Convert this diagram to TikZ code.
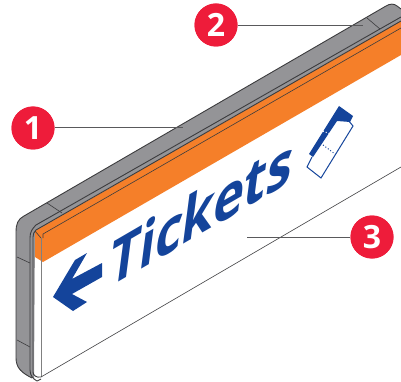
\documentclass[tikz,border=0pt]{standalone}
\usepackage{fontspec}
\setmainfont{Open Sans}
\definecolor{signblue}{HTML}{14449B}
\definecolor{signorange}{HTML}{F57F29}
\definecolor{framegray}{HTML}{949497}
\definecolor{linedark}{HTML}{3C3C3E}
\definecolor{badge}{HTML}{EE1C3A}
\tikzset{
  edge/.style={draw=linedark,line width=0.9pt,line join=round},
  thinedge/.style={draw=linedark,line width=0.6pt},
  leader/.style={draw=linedark!85,line width=0.8pt},
  badgenode/.style={circle,fill=badge,minimum size=43pt,inner sep=0pt,text=white,font=\fontsize{32}{32}\selectfont\bfseries}
}
\begin{document}
\begin{tikzpicture}[x=1pt,y=-1pt]
\useasboundingbox (0,0) rectangle (401,382);
% grey frame
\fill[framegray] (16,232) .. controls (16,224) and (18,219) .. (24,216)
  -- (386,6) .. controls (390,3.5) and (394,3.5) .. (397,6) -- (401,9)
  -- (401,21) -- (35,231) -- (34,378) -- (32,378) .. controls (24,374) and (16,370) .. (16,358) -- cycle;
\draw[edge] (401,9) -- (397,6) .. controls (394,3.5) and (390,3.5) .. (386,6) -- (24,216)
  .. controls (18,219) and (16,224) .. (16,232) -- (16,358) .. controls (16,368) and (22,373) .. (32,378);
% orange band
\fill[signorange] (35,231) -- (401,21) -- (401,55) -- (43,262) -- (35,257) -- cycle;
% frame inner contour
\draw[edge] (30,370) -- (30,238) .. controls (30,232) and (32,229) .. (36,225) -- (401,17);
\draw[edge] (33,372) -- (33,237) .. controls (33,234) and (34,232) .. (36,230) -- (401,21);
\draw[thinedge] (43,238) -- (43,234) -- (401,28);
\draw[edge] (30,370) .. controls (30,375) and (33,379) .. (37,381) -- (41,379);
\draw[edge] (33,372) .. controls (33,375) and (36,378) .. (41,377);
% sign face
\draw[draw=gray,line width=0.7pt] (41,238) -- (41,377);
\draw[thinedge] (41,377) -- (401,167);
\draw[thinedge] (35,231) -- (41,238);
% seams
\draw[thinedge] (47,203) -- (62,213);
\draw[thinedge] (367,18) -- (380,29);
\draw[thinedge] (17,257) -- (30,263);
\draw[thinedge] (17,340) -- (30,347);
% arrow
\fill[signblue] (53,297) -- (75,260) -- (87,253) -- (72,279) -- (102,263) -- (102,277) -- (72,294) -- (87,302) -- (73,311) -- cycle;
% text
\node[anchor=base west,inner sep=0pt,text=signblue,transform shape,cm={0.8,0.465,0.13,1,(0,0)},font=\fontsize{65}{65}\selectfont\bfseries] (tickets) at (107,289) {Tickets};
% ticket icon
\draw[signblue,line width=1pt,line join=miter] (348,120) -- (353,126) -- (321,178) -- (307,167) -- (312,157);
\fill[signblue] (339,106) -- (353,116) -- (350,122) -- (337,121) -- (313,157) -- (309,154) -- cycle;
\draw[signblue,line width=1pt,dotted] (323,145) -- (335,154);
\draw[white,line width=1pt,dotted] (323,131) -- (330,134);
% badges
\coordinate (e1) at (183,127);
\coordinate (e2) at (363,25);
\coordinate (e3) at (247,237);
\node[badgenode] (b1) at (33,128) {1};
\node[badgenode] (b2) at (216,25) {2};
\node[badgenode] (b3) at (372,237) {3};
\draw[leader] (b1.east |- e1) -- (e1);
\draw[leader] (b2) -- (e2);
\draw[leader] (b3) -- (e3);
\node[badgenode] at (b1) {1};
\node[badgenode] at (b2) {2};
\node[badgenode] at (b3) {3};
\end{tikzpicture}
\end{document}
